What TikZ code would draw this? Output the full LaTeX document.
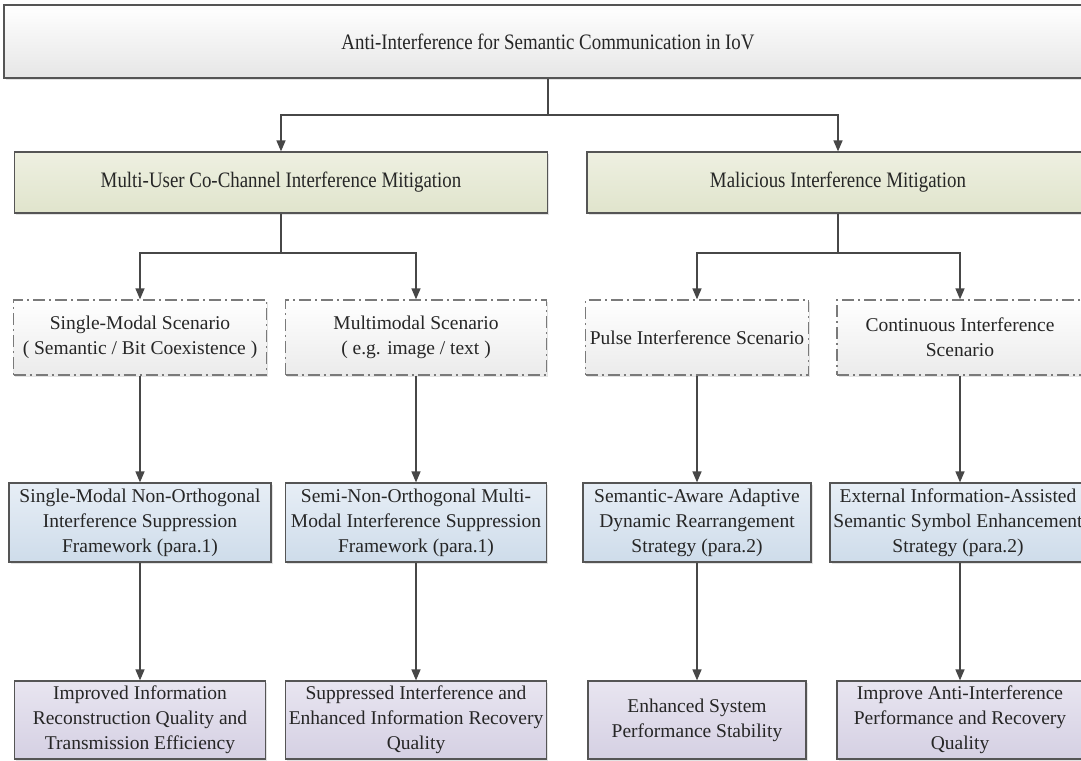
\documentclass[tikz,border=0pt]{standalone}
\usepackage{fontspec}
\setmainfont{Liberation Serif}
\usetikzlibrary{arrows.meta,shadows}

\definecolor{edge}{HTML}{555555}
\definecolor{wire}{HTML}{474747}
\definecolor{dashgray}{HTML}{7A7A7A}
\definecolor{greenT}{HTML}{EEF0E1}
\definecolor{greenB}{HTML}{E0E4CC}
\definecolor{blueT}{HTML}{E7EEF6}
\definecolor{blueB}{HTML}{CEDCEA}
\definecolor{violetT}{HTML}{E8E5F0}
\definecolor{violetB}{HTML}{D5D0E3}
\definecolor{greyB}{HTML}{E6E6E6}

\tikzset{
  box/.style={rectangle, draw=edge, line width=1.2pt, align=center, inner sep=0pt,
    font=\fontsize{19.5}{25}\selectfont, text=black!85,
    drop shadow={opacity=0.22, shadow xshift=1.5pt, shadow yshift=-1.5pt}},
  rootbox/.style={box, top color=white, bottom color=greyB},
  branchbox/.style={box, top color=greenT, bottom color=greenB},
  scenebox/.style={box, draw=dashgray, line width=1.3pt,
    dash pattern=on 12pt off 4pt on 2pt off 4pt,
    top color=white, bottom color=greyB!80},
  methodbox/.style={box, top color=blueT, bottom color=blueB},
  resultbox/.style={box, top color=violetT, bottom color=violetB},
  arr/.style={draw=wire, line width=1.5pt, -{Triangle[length=11pt,width=9pt]}},
  wirestyle/.style={draw=wire, line width=1.5pt}
}
% slightly condensed, taller lettering for the two upper levels
\newcommand{\narrow}[1]{\scalebox{0.9}[1.05]{#1}}

\begin{document}
\begin{tikzpicture}[x=1pt,y=-1pt]
\useasboundingbox (0,0) rectangle (1081,760);
\clip (0,0) rectangle (1081,760);

% root
\node[rootbox, minimum width=1088pt, minimum height=73pt] (root) at (548,41.5)
  {\narrow{\fontsize{21}{25}\selectfont Anti-Interference for Semantic Communication in IoV}};

% two mitigation branches
\node[branchbox, minimum width=533pt, minimum height=61pt] (mu) at (281,182.5)
  {\narrow{\fontsize{21}{25}\selectfont Multi-User Co-Channel Interference Mitigation}};
\node[branchbox, minimum width=502pt, minimum height=61pt] (mal) at (838,182.5)
  {\narrow{\fontsize{21}{25}\selectfont Malicious Interference Mitigation}};

% scenarios
\node[scenebox, minimum width=253pt, minimum height=75pt] (s1) at (140,337.5)
  {Single-Modal Scenario\\( Semantic / Bit Coexistence )};
\node[scenebox, minimum width=261pt, minimum height=75pt] (s2) at (416,337.5)
  {Multimodal Scenario\\( e.g. image / text )};
\node[scenebox, minimum width=223pt, minimum height=75pt] (s3) at (697,337.5)
  {Pulse Interference Scenario};
\node[scenebox, minimum width=246pt, minimum height=75pt] (s4) at (960,337.5)
  {Continuous Interference\\Scenario};

% methods
\node[methodbox, minimum width=262pt, minimum height=79pt] (m1) at (140,522.5)
  {Single-Modal Non-Orthogonal\\Interference Suppression\\Framework (para.1)};
\node[methodbox, minimum width=261pt, minimum height=79pt] (m2) at (416,522.5)
  {Semi-Non-Orthogonal Multi-\\Modal Interference Suppression\\Framework (para.1)};
\node[methodbox, minimum width=228pt, minimum height=79pt] (m3) at (697,522.5)
  {Semantic-Aware Adaptive\\Dynamic Rearrangement\\Strategy (para.2)};
\node[methodbox, minimum width=256pt, minimum height=79pt] (m4) at (958,522.5)
  {External Information-Assisted\\Semantic Symbol Enhancement\\Strategy (para.2)};

% results
\node[resultbox, minimum width=251pt, minimum height=78pt] (r1) at (140,720)
  {Improved Information\\Reconstruction Quality and\\Transmission Efficiency};
\node[resultbox, minimum width=261pt, minimum height=78pt] (r2) at (416,720)
  {Suppressed Interference and\\Enhanced Information Recovery\\Quality};
\node[resultbox, minimum width=218pt, minimum height=78pt] (r3) at (697,720)
  {Enhanced System\\Performance Stability};
\node[resultbox, minimum width=246pt, minimum height=78pt] (r4) at (960,720)
  {Improve Anti-Interference\\Performance and Recovery\\Quality};

% junction points of the tree
\coordinate (j0) at (548,115);
\coordinate (j1) at (281,253);
\coordinate (j2) at (838,253);

\draw[wirestyle] (root.south) -- (j0);
\draw[arr] (j0) -| (mu.north);
\draw[arr] (j0) -| (mal.north);

\draw[wirestyle] (mu.south) -- (j1);
\draw[arr] (j1) -| (s1.north);
\draw[arr] (j1) -| (s2.north);
\draw[wirestyle] (mal.south) -- (j2);
\draw[arr] (j2) -| (s3.north);
\draw[arr] (j2) -| (s4.north);

\foreach \i in {1,2,3}{
  \draw[arr] (s\i.south) -- (m\i.north);
  \draw[arr] (m\i.south) -- (r\i.north);
}
\draw[arr] (s4.south) -- (s4.south |- m4.north);
\draw[arr] (s4.south |- m4.south) -- (r4.north);
\end{tikzpicture}
\end{document}
